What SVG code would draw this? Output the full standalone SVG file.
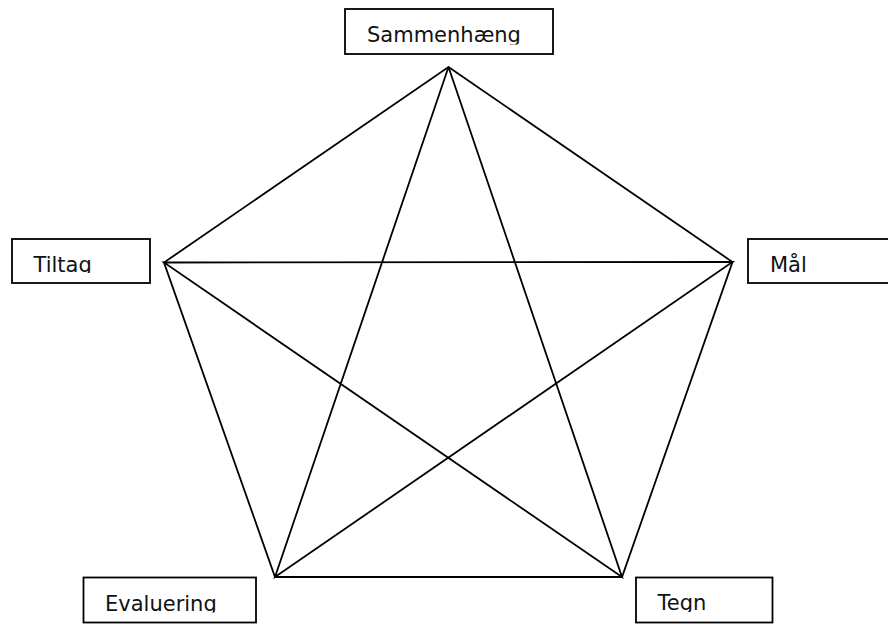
<svg xmlns="http://www.w3.org/2000/svg" width="888" height="624" viewBox="0 0 888 624">
<style>
.box{fill:#fff;stroke:#000;stroke-width:1.8}
.lbl{font-family:"DejaVu Sans",Verdana,sans-serif;font-size:21px;fill:#111}
.edge{stroke:#000;stroke-width:1.8;fill:none}
</style>
<defs>
<clipPath id="c1"><rect x="345" y="9" width="208" height="35.5"/></clipPath>
<clipPath id="c2"><rect x="12" y="239" width="138" height="34"/></clipPath>
<clipPath id="c4"><rect x="83" y="577" width="173" height="35.5"/></clipPath>
<clipPath id="c5"><rect x="636" y="577" width="137" height="35"/></clipPath>
</defs>
<rect width="888" height="624" fill="#fff"/>
<g id="connectors">
<polygon class="edge" points="448.5,67 732.5,262 622,577 275,577 164,262.5"/>
<polyline class="edge" points="448.5,67 275,577 732.5,262 164,262.5 622,577 448.5,67"/>
</g>
<g id="sammenhaeng">
<rect class="box" x="345" y="9" width="208" height="45"/>
<text class="lbl" x="367" y="42" clip-path="url(#c1)">Sammenhæng</text>
</g>
<g id="tiltag">
<rect class="box" x="12" y="239" width="138" height="44"/>
<text class="lbl" x="33.5" y="271.5" clip-path="url(#c2)">Tiltag</text>
</g>
<g id="maal">
<rect class="box" x="748" y="239" width="145" height="44"/>
<text class="lbl" x="770" y="271.5">Mål</text>
</g>
<g id="evaluering">
<rect class="box" x="83.5" y="577.5" width="172.5" height="45"/>
<text class="lbl" x="105" y="610.5" clip-path="url(#c4)">Evaluering</text>
</g>
<g id="tegn">
<rect class="box" x="636" y="577.5" width="136.5" height="45"/>
<text class="lbl" x="657.5" y="610" clip-path="url(#c5)">Tegn</text>
</g>
</svg>
